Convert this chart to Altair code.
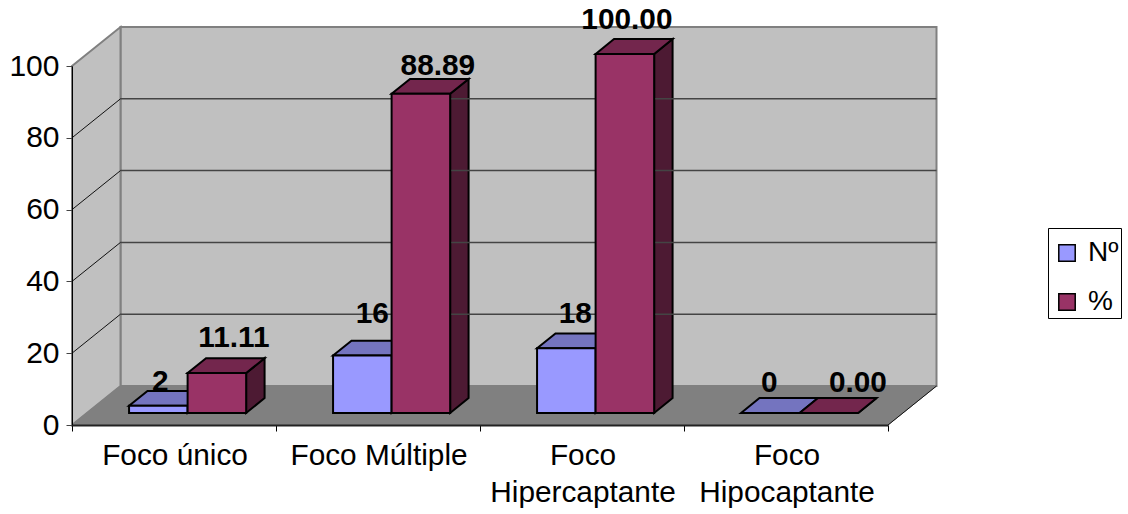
import altair as alt
import pandas as pd

# Chart values
categories = [["Foco único"], ["Foco Múltiple"], ["Foco", "Hipercaptante"], ["Foco", "Hipocaptante"]]
series_names = ["Nº", "%"]
counts = [2, 16, 18, 0]
percents = [11.11, 88.89, 100.00, 0.00]
count_labels = ["2", "16", "18", "0"]
percent_labels = ["11.11", "88.89", "100.00", "0.00"]
y_ticks = [0, 20, 40, 60, 80, 100]

# Oblique projection: one category slot and one value unit, in pixels
SLOT_PX = 204
UNIT_PX = 3.59
DEPTH_X = 48.5 / SLOT_PX
DEPTH_Y = 39 / UNIT_PX

BAR_START = 0.206
BAR_WIDTH = 0.287
BAR_NEAR = 0.31
BAR_FAR = 0.69

FONT = "Liberation Sans"
FRONT = {"Nº": "#9999FF", "%": "#993366"}
TOP = {"Nº": "#7474BF", "%": "#73264D"}
SIDE = {"Nº": "#4D4D80", "%": "#4D1A33"}

# Pixel nudges of the value labels relative to the middle of each bar's top edge
NUDGE = {"Nº": [(2, -24), (10, -41), (9, -34), (-1, -30)],
         "%": [(17, -35), (17, -28), (2, -34), (29, -30)]}


def project(x, value, depth):
    return x + depth * DEPTH_X, value + depth * DEPTH_Y


def side_face(name, x, low, high, near, far, fill, stroke, width):
    """Vertical parallelogram running from the near depth to the far depth."""
    rows = []
    for depth in (near, far):
        px, top = project(x, high, depth)
        _, bottom = project(x, low, depth)
        rows.append(dict(face=name, x=px, y=top, y2=bottom, fill=fill, stroke=stroke, sw=width))
    return rows


def flat_face(name, x0, x1, value, near, far, fill, stroke, width):
    """Horizontal parallelogram at a constant value."""
    ax, ay = project(x0, value, near)
    bx, by = project(x0, value, far)
    cx, _ = project(x1, value, near)
    dx, _ = project(x1, value, far)
    rows = [
        dict(face=name, x=ax, y=ay, y2=ay),
        dict(face=name, x=bx, y=by, y2=ay),
        dict(face=name, x=cx, y=by, y2=ay),
        dict(face=name, x=dx, y=by, y2=by),
    ]
    for row in rows:
        row.update(fill=fill, stroke=stroke, sw=width)
    return rows


n_slots = len(categories)
faces = []
fronts = []
value_labels = []

# Back wall, left wall and floor of the box
wall_top = project(0, 100, 1)[1]
wall_low = project(0, 0, 1)[1]
for x_edge in (DEPTH_X, n_slots + DEPTH_X):
    faces.append(dict(face="back", x=x_edge, y=wall_top, y2=wall_low,
                      fill="#C0C0C0", stroke="#808080", sw=2))
faces += side_face("left", 0, 0, 100, 0, 1, "#C0C0C0", "#808080", 2)
faces += flat_face("floor", 0, n_slots, 0, 0, 1, "#808080", "#808080", 1)

# Bars, back to front within each category
for i in range(n_slots):
    for s, (name, values, texts) in enumerate(
        [("Nº", counts, count_labels), ("%", percents, percent_labels)]
    ):
        x0 = i + BAR_START + s * BAR_WIDTH
        x1 = x0 + BAR_WIDTH
        v = values[i]
        faces += side_face(f"side{i}{s}", x1, 0, v, BAR_NEAR, BAR_FAR, SIDE[name], "#000000", 2)
        faces += flat_face(f"top{i}{s}", x0, x1, v, BAR_NEAR, BAR_FAR, TOP[name], "#000000", 2)
        fx0, fy0 = project(x0, 0, BAR_NEAR)
        fx1, fy1 = project(x1, v, BAR_NEAR)
        fronts.append(dict(series=name, x=fx0, x2=fx1, y=fy0, y2=fy1))
        nx, ny = NUDGE[name][i]
        value_labels.append(dict(text=texts[i], x=(fx0 + fx1) / 2 + nx / SLOT_PX, y=fy1 - ny / UNIT_PX))

# Gridlines bend at the corner between left wall and back wall
left_lines = []
back_lines = []
for tick in y_ticks[1:-1]:
    for depth in (0, 1):
        px, py = project(0, tick, depth)
        left_lines.append(dict(tick=tick, x=px, y=py))
    for x_pos in (0, n_slots):
        px, py = project(x_pos, tick, 1)
        back_lines.append(dict(tick=tick, x=px, y=py))

# Floor's right edge
edge = [dict(x=project(n_slots, 0, d)[0], y=project(n_slots, 0, d)[1]) for d in (0, 1)]

# Category captions sit below the axis, one row per line of text
captions = []
for i, lines in enumerate(categories):
    for j, line in enumerate(lines):
        captions.append(dict(text=line, x=i + 0.505, y=-(31 + 37 * j) / UNIT_PX))

x_scale = alt.Scale(domain=[0, n_slots], nice=False, zero=False)
y_scale = alt.Scale(domain=[0, 100], nice=False, zero=False)
X = alt.X("x:Q", scale=x_scale, title=None,
          axis=alt.Axis(values=list(range(n_slots + 1)), labels=False, grid=False, tickColor="#000000",
                        tickSize=6, tickWidth=1, domainColor="#222222", domainWidth=2, zindex=1))
Y = alt.Y("y:Q", scale=y_scale, title=None,
          axis=alt.Axis(values=y_ticks, grid=False, tickColor="#444444", tickSize=6, tickWidth=1,
                        domainColor="#000000", domainWidth=1, labelFont=FONT, labelFontSize=30,
                        labelColor="#000000", labelPadding=7, zindex=1))

face_layer = alt.Chart(pd.DataFrame(faces)).mark_area(opacity=1).encode(
    x=X, y=Y, y2="y2:Q", detail="face:N",
    fill=alt.Fill("fill:N", scale=None),
    stroke=alt.Stroke("stroke:N", scale=None),
    strokeWidth=alt.StrokeWidth("sw:Q", scale=None),
)
left_grid = alt.Chart(pd.DataFrame(left_lines)).mark_line(color="#111111", strokeWidth=1).encode(
    x="x:Q", y="y:Q", detail="tick:O"
)
back_grid = alt.Chart(pd.DataFrame(back_lines)).mark_line(color="#444444", strokeWidth=1.5).encode(
    x="x:Q", y="y:Q", detail="tick:O"
)
edge_line = alt.Chart(pd.DataFrame(edge)).mark_line(color="#111111", strokeWidth=1).encode(x="x:Q", y="y:Q")
front_layer = alt.Chart(pd.DataFrame(fronts)).mark_rect(stroke="#000000", strokeWidth=2).encode(
    x="x:Q", x2="x2:Q", y="y:Q", y2="y2:Q",
    color=alt.Color(
        "series:N",
        scale=alt.Scale(domain=series_names, range=[FRONT[n] for n in series_names]),
        legend=alt.Legend(
            title=" ", titleFontSize=5, titlePadding=4, orient="none", legendX=976, legendY=162, padding=2,
            fillColor="#FFFFFF", strokeColor="#000000", cornerRadius=0,
            symbolType="square", symbolSize=270, symbolStrokeColor="#000000", symbolStrokeWidth=1.5,
            symbolOpacity=1, symbolOffset=3, labelFont=FONT, labelFontSize=28, labelColor="#000000",
            labelOffset=7, rowPadding=21, labelExpr="datum.label + ' \u2009'",
        ),
    ),
)
value_text = alt.Chart(pd.DataFrame(value_labels)).mark_text(
    font=FONT, fontSize=29.8, fontWeight="bold", color="#000000", baseline="middle", align="center"
).encode(x="x:Q", y="y:Q", text="text:N")
caption_text = alt.Chart(pd.DataFrame(captions)).mark_text(
    font=FONT, fontSize=29.8, color="#000000", baseline="middle", align="center"
).encode(x="x:Q", y="y:Q", text="text:N")

chart = (
    alt.layer(face_layer, back_grid, left_grid, edge_line, front_layer, value_text, caption_text)
    .resolve_scale(fill="independent", stroke="independent", color="independent")
    .properties(
        width=n_slots * SLOT_PX,
        height=100 * UNIT_PX,
        padding={"left": 72, "top": 66, "right": 240, "bottom": 89},
        autosize=alt.AutoSizeParams(type="none"),
        background="#FFFFFF",
    )
    .configure_view(stroke=None)
)

chart.save("out.html", embed_options={"renderer": "svg", "actions": False})
